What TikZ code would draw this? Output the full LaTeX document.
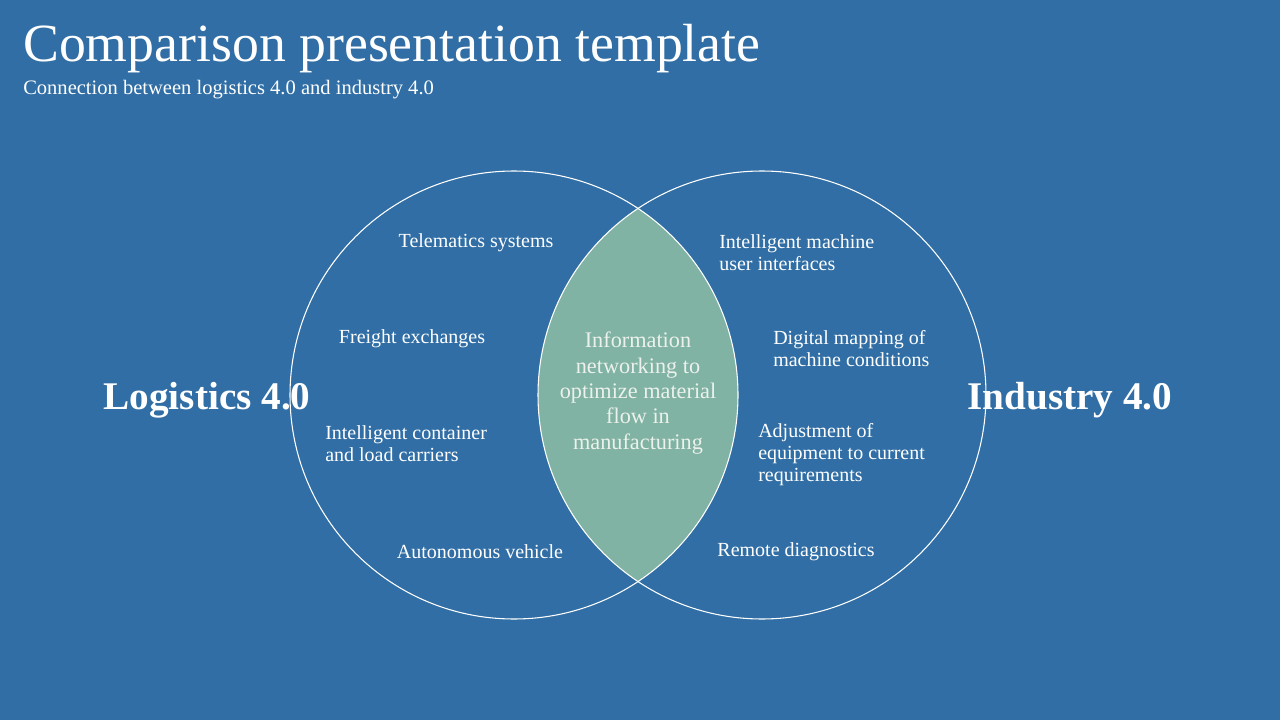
\documentclass[tikz,border=0pt]{standalone}
\usepackage{fontspec}
\setmainfont{Liberation Serif}
\usetikzlibrary{positioning}
\definecolor{slideblue}{RGB}{48,110,165}
\definecolor{lensgreen}{RGB}{128,179,163}
\definecolor{lenstext}{RGB}{236,241,237}

\begin{document}
\begin{tikzpicture}[
  x=0.75pt, y=-0.75pt,
  ring/.style={circle, draw=white, line width=0.8pt, minimum size=336pt,
               inner sep=0pt, outer sep=0pt},
  item/.style={text=white, font=\fontsize{15}{16.5}\selectfont, inner sep=0pt},
  bigname/.style={text=white, font=\fontsize{29.4}{32}\selectfont\bfseries, inner sep=0pt},
]
% ===== background =====
\fill[slideblue] (0,0) rectangle (1280,720);
\useasboundingbox (0,0) rectangle (1280,720);

% ===== title =====
\node (title) [anchor=base west, text=white, inner sep=0pt,
  font=\fontsize{40.3}{46}\selectfont] at (23,62) {Comparison presentation template};
\node (subtitle) [anchor=base west, text=white, inner sep=0pt,
  font=\fontsize{15.4}{17}\selectfont] at (23,95) {Connection between logistics 4.0 and industry 4.0};

% ===== lens (overlap) =====
\begin{scope}
  \clip (514,395) circle (224);
  \fill[lensgreen] (762,395) circle (224);
\end{scope}

% ===== the two circles =====
\node (logcirc) [ring] at (514,395) {};
\node (indcirc) [ring] at (762,395) {};

% ===== names =====
\node (logname) [bigname] at (207,400) {Logistics 4.0};
\node (indname) [bigname] at (1070,400) {Industry 4.0};

% ===== left items =====
\node (telematics) [item] at (476,243) {Telematics systems};
\node (freight) [item] at (412,339) {Freight exchanges};
\node (container) [item, anchor=west, align=left] at (325,444) {Intelligent container\\and load carriers};
\node (autonomous) [item] at (480,552) {Autonomous vehicle};

% ===== right items =====
\node (interfaces) [item, anchor=west, align=left] at (719,253) {Intelligent machine\\user interfaces};
\node (mapping) [item, anchor=west, align=left] at (773,349) {Digital mapping of\\machine conditions};
\node (adjust) [item, anchor=west, align=left] at (758,455) {Adjustment of\\equipment to current\\requirements};
\node (remote) [item] at (796,552) {Remote diagnostics};

% ===== lens text =====
\node (shared) [text=lenstext, align=center, inner sep=0pt,
  font=\fontsize{16.7}{19}\selectfont] at (638,393)
  {Information\\networking to\\optimize material\\flow in\\manufacturing};
\end{tikzpicture}
\end{document}
